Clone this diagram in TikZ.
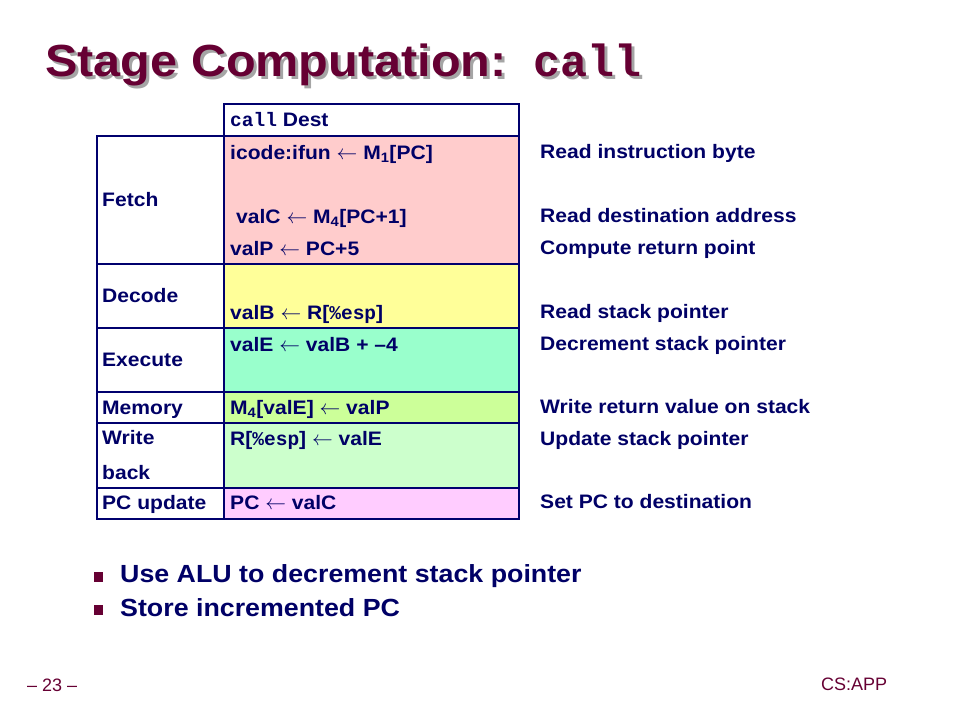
\documentclass[tikz,border=0pt]{standalone}
\usepackage{fontspec}
\setmainfont{Liberation Sans}[FakeStretch=1.08]
\setmonofont{Liberation Mono}
\newfontfamily\footfont{Liberation Sans}[Ligatures=TeX]
\definecolor{slidemaroon}{RGB}{102,0,51}
\definecolor{slideshadow}{RGB}{165,165,165}
\definecolor{slidenavy}{RGB}{0,0,102}
\definecolor{gridnavy}{RGB}{0,0,110}
\definecolor{fetchpink}{RGB}{255,204,204}
\definecolor{decodeyellow}{RGB}{255,255,153}
\definecolor{executegreen}{RGB}{153,255,204}
\definecolor{memorylime}{RGB}{204,255,153}
\definecolor{writegreen}{RGB}{204,255,204}
\definecolor{pcpink}{RGB}{255,204,255}
\newcommand{\mono}[1]{{\ttfamily\bfseries #1}}
\newcommand{\getsarrow}{$\leftarrow$}
\tikzset{
  cell/.style={anchor=base west, inner sep=0pt, text=slidenavy,
    font=\fontsize{19.5}{23}\selectfont\bfseries},
  gridline/.style={draw=gridnavy, line width=2pt},
  titletext/.style={anchor=base west, inner sep=0pt,
    font=\fontsize{45}{50}\selectfont\bfseries},
  bullettext/.style={anchor=base west, inner sep=0pt, text=slidenavy,
    font=\fontsize{24.8}{28}\selectfont\bfseries},
  foottext/.style={anchor=base west, inner sep=0pt, text=slidemaroon,
    font=\footfont\fontsize{18}{20}\selectfont}
}

\begin{document}
\begin{tikzpicture}[x=1pt, y=-1pt]
  \useasboundingbox (0,0) rectangle (958,718);

  % title with its shadow
  \node [titletext, text=slideshadow] (titleshadow) at (48,79) {Stage Computation:\texttt{ call}};
  \node [titletext, text=slidemaroon] (title) at (45,76) {Stage Computation:\texttt{ call}};

  % stage rows
  \foreach \ya/\yb/\col in {136/264/fetchpink, 264/328/decodeyellow, 328/392/executegreen,
      392/423/memorylime, 423/488/writegreen, 488/519/pcpink} {
    \fill [\col] (224,\ya) rectangle (519,\yb);
    \draw [gridline] (97,\ya) rectangle (519,\yb);
  }
  \draw [gridline] (224,104) rectangle (519,136);
  \draw [gridline] (224,136) -- (224,519);

  \node [cell] (instr) at (230,126) {\mono{call} Dest};

  \node [cell] (fetch) at (102,206) {Fetch};
  \node [cell] (decode) at (102,302) {Decode};
  \node [cell] (execute) at (102,366) {Execute};
  \node [cell] (memory) at (102,414) {Memory};
  \node [cell] (write) at (102,444) {Write};
  \node [cell] (back) at (102,479) {back};
  \node [cell] (pcupdate) at (102,509) {PC update};

  \node [cell] (icode) at (230,159) {icode:ifun \getsarrow{} M\textsubscript{1}[PC]};
  \node [cell] (valC) at (236,223) {valC \getsarrow{} M\textsubscript{4}[PC+1]};
  \node [cell] (valP) at (230,255) {valP \getsarrow{} PC+5};
  \node [cell] (valB) at (230,319) {valB \getsarrow{} R[\mono{\%esp}]};
  \node [cell] (valE) at (230,351) {valE \getsarrow{} valB + --4};
  \node [cell] (mem) at (230,414) {M\textsubscript{4}[valE] \getsarrow{} valP};
  \node [cell] (regwrite) at (230,445) {R[\mono{\%esp}] \getsarrow{} valE};
  \node [cell] (newpc) at (230,509) {PC \getsarrow{} valC};

  \node [cell] (readbyte) at (540,158) {Read instruction byte};
  \node [cell] (readdest) at (540,222) {Read destination address};
  \node [cell] (retpoint) at (540,254) {Compute return point};
  \node [cell] (readsp) at (540,318) {Read stack pointer};
  \node [cell] (decsp) at (540,350) {Decrement stack pointer};
  \node [cell] (writeret) at (540,413) {Write return value on stack};
  \node [cell] (updsp) at (540,445) {Update stack pointer};
  \node [cell] (setpc) at (540,508) {Set PC to destination};

  % bullets
  \fill [slidemaroon] (94,572) rectangle (103,582);
  \fill [slidemaroon] (94,605) rectangle (103,615);
  \node [bullettext] (usealu) at (120,582) {Use ALU to decrement stack pointer};
  \node [bullettext] (storepc) at (120,616) {Store incremented PC};

  \node [foottext] (pagenum) at (27,691) {– 23 –};
  \node [foottext] (csapp) at (821,690) {CS:APP};
\end{tikzpicture}
\end{document}
